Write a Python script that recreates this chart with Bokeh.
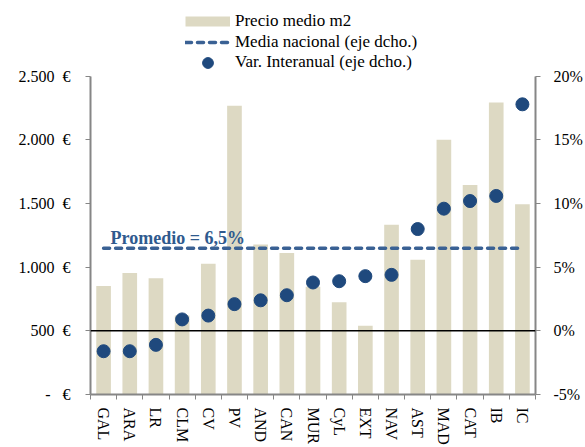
from bokeh.plotting import figure
from bokeh.models import (Range1d, LinearAxis, FixedTicker, Span, Label, Legend,
                          LegendItem, PrintfTickFormatter)
from bokeh.embed import file_html
from bokeh.resources import INLINE

# ---- data ----
regions = ["GAL", "ARA", "LR", "CLM", "CV", "PV", "AND", "CAN", "MUR", "CyL",
           "EXT", "NAV", "AST", "MAD", "CAT", "IB", "IC"]
price_m2 = [853, 955, 913, 620, 1028, 2269, 1178, 1111, 846, 724,
            540, 1334, 1059, 2001, 1646, 2294, 1495]
yoy_change = [-1.6, -1.6, -1.1, 0.9, 1.2, 2.1, 2.4, 2.8, 3.8, 3.9,
              4.3, 4.4, 8.0, 9.6, 10.2, 10.6, 17.8]
national_avg = 6.5
left_ticks = [0, 500, 1000, 1500, 2000, 2500]
right_ticks = [-5, 0, 5, 10, 15, 20]

BAR = "#DDD9C3"
DOT = "#1F497D"
DASH = "#3A6194"
AXIS = "#868686"
FONT = "Liberation Serif"

W, H = 585, 447
BORDER_L, BORDER_R, BORDER_B = 90, 48, 52
FRAME_H = H - BORDER_B          # frame reaches the top of the canvas
AXIS_TOP_PX = 76                # where the top tick sits (room above for the legend)
axis_px = FRAME_H - AXIS_TOP_PX

n = len(regions)
xs = list(range(n))

# extend the ranges above the top tick so the legend can live inside the frame
eur_lo, eur_hi = left_ticks[0], left_ticks[-1]
pct_lo, pct_hi = right_ticks[0], right_ticks[-1]
extra = FRAME_H / axis_px
eur_top = eur_lo + (eur_hi - eur_lo) * extra
pct_top = pct_lo + (pct_hi - pct_lo) * extra

p = figure(width=W, height=H, x_range=Range1d(-0.5, n - 0.5),
           y_range=Range1d(eur_lo, eur_top), title=None,
           output_backend="svg", toolbar_location=None,
           min_border_left=BORDER_L, min_border_right=BORDER_R,
           min_border_top=0, min_border_bottom=BORDER_B)
p.extra_y_ranges = {"pct": Range1d(pct_lo, pct_top)}
p.xgrid.visible = False
p.ygrid.visible = False
p.outline_line_color = None
p.background_fill_color = "white"
p.border_fill_color = "white"

# x axis
xa = p.xaxis[0]
xa.ticker = FixedTicker(ticks=xs, minor_ticks=[i - 0.5 for i in range(n + 1)])
xa.major_label_overrides = {i: r for i, r in enumerate(regions)}
xa.major_label_orientation = "vertical"
xa.major_tick_line_color = None
xa.major_tick_out = 0
xa.major_tick_in = 0
xa.minor_tick_out = 5
xa.minor_tick_in = 0
xa.minor_tick_line_color = AXIS
xa.axis_line_color = AXIS
xa.axis_line_width = 2
xa.major_label_standoff = 8
xa.major_label_text_font = FONT
xa.major_label_text_font_size = "16px"
xa.major_label_text_color = "black"

# left axis
def eur(v):
    if v == 0:
        return "-\u00a0\u00a0\u00a0€"
    return f"{v:,}".replace(",", ".") + "\u00a0\u00a0€"

ya = p.yaxis[0]
ya.bounds = (eur_lo, eur_hi)
ya.ticker = FixedTicker(ticks=left_ticks, minor_ticks=[])
ya.major_label_overrides = {v: eur(v) for v in left_ticks}
ya.axis_line_color = AXIS
ya.axis_line_width = 2
ya.major_tick_line_color = AXIS
ya.major_tick_out = 5
ya.major_tick_in = 0
ya.minor_tick_line_color = None
ya.major_label_standoff = 15
ya.major_label_text_font = FONT
ya.major_label_text_font_size = "16px"
ya.major_label_text_color = "black"

# right axis
ra = LinearAxis(y_range_name="pct", bounds=(pct_lo, pct_hi),
                ticker=FixedTicker(ticks=right_ticks, minor_ticks=[]),
                formatter=PrintfTickFormatter(format="%d%%"))
ra.axis_line_color = AXIS
ra.axis_line_width = 2
ra.major_tick_line_color = AXIS
ra.major_tick_out = 5
ra.major_tick_in = 0
ra.minor_tick_line_color = None
ra.major_label_standoff = 13
ra.major_label_text_font = FONT
ra.major_label_text_font_size = "16px"
ra.major_label_text_color = "black"
p.add_layout(ra, "right")

# glyphs
bars = p.vbar(x=xs, top=price_m2, bottom=0, width=0.56, fill_color=BAR, line_color=None)
p.add_layout(Span(location=0, dimension="width", y_range_name="pct",
                  line_color="black", line_width=1.5))
avg_line = p.line(x=[xs[0], xs[-1]], y=[national_avg, national_avg], y_range_name="pct",
                  line_color=DASH, line_width=3.5, line_dash="6 6", line_cap="round")
dots = p.scatter(x=xs, y=yoy_change, y_range_name="pct", size=13,
                 fill_color=DOT, line_color=DOT)
# legend swatch for the bars (a thick line with no visible points)
bar_proxy = p.line(x=[xs[0]], y=[float("nan")], line_color=BAR, line_width=10)

p.add_layout(Label(x=xs[0], y=national_avg, y_range_name="pct", x_offset=7, y_offset=10,
                   text="Promedio = " + f"{national_avg}".replace(".", ",") + "%",
                   text_font=FONT, text_font_size="18px", text_font_style="bold",
                   text_color="#2F5A8E", text_baseline="alphabetic"))

# legends (inside the frame, above the plotted area)
def add_legend(label, renderer, h, center_y):
    top = center_y - h / 2
    lg = Legend(items=[LegendItem(label=label, renderers=[renderer])],
                location=(95, FRAME_H - top - h),
                glyph_width=45, glyph_height=h, label_height=h, label_standoff=5,
                padding=0, margin=0, spacing=0, border_line_color=None,
                background_fill_alpha=0, label_text_font=FONT,
                label_text_font_size="17px", label_text_color="black")
    p.add_layout(lg)

add_legend("Precio medio m2", bar_proxy, 20, 22)
add_legend("Media nacional (eje dcho.)", avg_line, 20, 43)
add_legend("Var. Interanual (eje dcho.)", dots, 27, 63)

open("out.html", "w").write(file_html(p, INLINE))
